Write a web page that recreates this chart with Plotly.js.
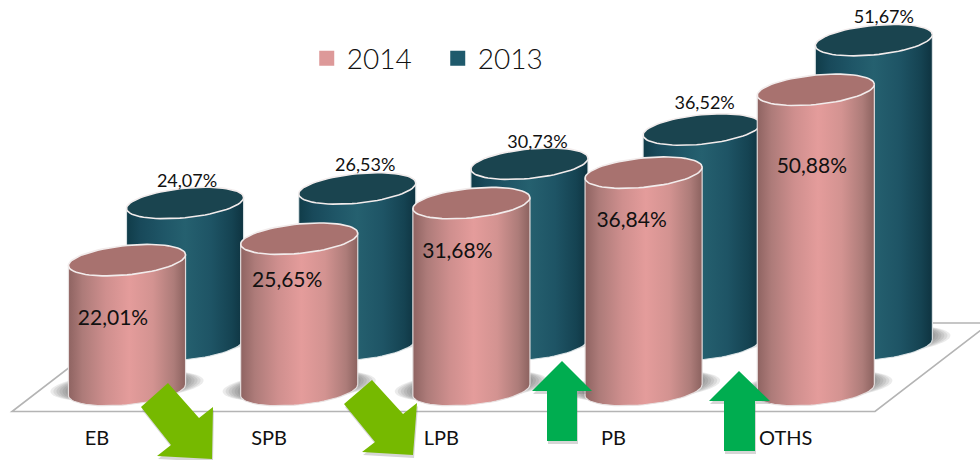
<!DOCTYPE html>
<html>
<head>
<meta charset="utf-8">
<script src="https://cdn.plot.ly/plotly-3.0.1.min.js"></script>
<style>html,body{margin:0;padding:0;background:#fff}#c{width:980px;height:460px}</style>
</head>
<body>
<div id="c"></div>
<script>
var categories = ['EB', 'SPB', 'LPB', 'PB', 'OTHS'];
var values2014 = [22.01, 25.65, 31.68, 36.84, 50.88];
var values2013 = [24.07, 26.53, 30.73, 36.52, 51.67];

// geometry of the pseudo-3D scene
var W = 980, H = 460;
var xRange = [-0.7375, 4.9535], yRange = [-11.86, 66.1];
var backDx = 0.337, backBase = 7.63;
var rx = 0.34, ry = 2.5, shear = 0.93;
var tickShift = -0.175;
var pxX = (xRange[1] - xRange[0]) / W, pxY = (yRange[1] - yRange[0]) / H;
function dx(p) { return xRange[0] + p * pxX; }
function dy(p) { return yRange[1] - p * pxY; }

var label14Dx = [-14, -12, -14, -12, -4], label14Dy = [60, 43, 50, 49, 78];
var label13Dx = [2, 8, 8, 3, 10], label13Dy = [20, 22, 20, 25, 22];

function comma(v) { return v.toFixed(2).replace('.', ',') + '%'; }

function ellipse(cx, cy, a, b, s) {
  var xs = [], ys = [];
  for (var k = 0; k <= 72; k++) {
    var t = k / 72 * 2 * Math.PI;
    xs.push(cx + a * Math.cos(t));
    ys.push(cy + b * Math.sin(t) + s * Math.cos(t));
  }
  return { x: xs, y: ys };
}
function body(cx, base, top) {
  var xs = [], ys = [];
  for (var k = 0; k <= 36; k++) {
    var t = k / 36 * Math.PI;
    xs.push(cx + rx * Math.cos(t));
    ys.push(base - ry * Math.sin(t) + shear * Math.cos(t));
  }
  xs.push(cx - rx, cx + rx, cx + rx);
  ys.push(top - shear, top + shear, base + shear);
  return { x: xs, y: ys };
}
function toPath(e) {
  return e.x.map(function (x, i) { return (i ? 'L' : 'M') + x + ',' + e.y[i]; }).join(' ') + ' Z';
}

var pinkScale = [[0, '#8e6361'], [0.12, '#ad7b79'], [0.32, '#cf8f8e'], [0.52, '#e49c9b'], [0.72, '#d39391'], [0.9, '#ad7c79'], [1, '#8b625f']];
var tealScale = [[0, '#103c49'], [0.12, '#18495a'], [0.32, '#1f5667'], [0.5, '#25606f'], [0.72, '#1e5465'], [0.9, '#154352'], [1, '#0e3340']];

function cylinder(cx, base, v, scale, lid, rim) {
  var top = base + v;
  var b = body(cx, base, top);
  var e = ellipse(cx, top, rx, ry, shear);
  return [
    { type: 'scatter', mode: 'lines', x: b.x, y: b.y, fill: 'toself', line: { color: rim, width: 1.2 },
      fillgradient: { type: 'horizontal', colorscale: scale }, hoverinfo: 'skip', showlegend: false },
    { type: 'scatter', mode: 'lines', x: e.x, y: e.y, fill: 'toself', fillcolor: lid, line: { color: '#f2ecec', width: 1.6 },
      hoverinfo: 'skip', showlegend: false }
  ];
}

var idx = categories.map(function (c, i) { return i; });
var traces = [
  { type: 'bar', name: '2013', x: idx.map(function (i) { return i + backDx; }), y: values2013, base: backBase, width: 0.5,
    marker: { color: '#1f5a6c', line: { color: '#1f5a6c', width: 3 } }, hoverinfo: 'skip', legendrank: 2 },
  { type: 'bar', name: '2014', x: idx, y: values2014, base: 0, width: 0.5,
    marker: { color: '#dd9999', line: { color: '#dd9999', width: 3 } }, hoverinfo: 'skip', legendrank: 1 }
];
idx.forEach(function (i) {
  traces = traces.concat(cylinder(i + backDx, backBase, values2013[i], tealScale, '#1a444f', 'rgba(225,232,234,0.9)'));
});
idx.forEach(function (i) {
  traces = traces.concat(cylinder(i, 0, values2014[i], pinkScale, '#a8726f', 'rgba(232,226,226,0.95)'));
});
traces.push({ type: 'scatter', mode: 'text', x: idx.map(function (i) { return i + label14Dx[i] * pxX; }),
  y: idx.map(function (i) { return values2014[i] - label14Dy[i] * pxY; }), text: values2014.map(comma),
  textposition: 'middle center', textfont: { family: 'Lato', size: 21, color: '#111' }, hoverinfo: 'skip', showlegend: false });
traces.push({ type: 'scatter', mode: 'text', x: idx.map(function (i) { return i + backDx + label13Dx[i] * pxX; }),
  y: idx.map(function (i) { return backBase + values2013[i] + label13Dy[i] * pxY; }), text: values2013.map(comma),
  textposition: 'middle center', textfont: { family: 'Lato', size: 18, color: '#111' }, hoverinfo: 'skip', showlegend: false });

var shapes = [];
function addShape(path, fill, op, layer, line) {
  shapes.push({ type: 'path', path: path, xref: 'x', yref: 'y', fillcolor: fill, opacity: op, layer: layer,
    line: line || { width: 0 } });
}
// floor
var floorPx = [[12, 411.5], [875, 411.5], [990, 323], [127, 323]];
addShape(toPath({ x: floorPx.map(function (p) { return dx(p[0]); }), y: floorPx.map(function (p) { return dy(p[1]); }) }),
  '#ffffff', 1, 'below', { color: '#b4b4b4', width: 1.6 });
// soft floor shadows
function shadow(cx, base) {
  for (var k = 0; k < 7; k++) {
    addShape(toPath(ellipse(cx, base + 4 * pxY, rx + (18 - k * 3) * pxX, ry, shear)), '#3c3c3c', 0.1, 'below');
  }
}
idx.forEach(function (i) { shadow(i + backDx, backBase); });
idx.forEach(function (i) { shadow(i, 0); });
// change arrows
var arrowsDown = [
  [[168, 383], [141, 407], [171, 445], [157, 456], [212, 459], [213, 407], [199, 418]],
  [[372, 380], [344, 404], [375, 442], [362, 452], [413, 455], [417, 403], [403, 414]]
];
var arrowsUp = [
  [[562, 361], [532, 391], [547, 391], [547, 441], [577, 441], [577, 391], [592, 391]],
  [[739, 371], [709, 401], [724, 401], [724, 451], [755, 451], [755, 401], [770, 401]]
];
function arrow(pts, col) {
  addShape(toPath({ x: pts.map(function (p) { return dx(p[0] + 1); }), y: pts.map(function (p) { return dy(p[1] + 3); }) }), '#777777', 0.3, 'above');
  addShape(toPath({ x: pts.map(function (p) { return dx(p[0]); }), y: pts.map(function (p) { return dy(p[1]); }) }), col, 1, 'above');
}
arrowsDown.forEach(function (a) { arrow(a, '#76b900'); });
arrowsUp.forEach(function (a) { arrow(a, '#00ad50'); });

var layout = {
  width: W, height: H,
  margin: { l: 0, r: 0, t: 0, b: 0, pad: 0 },
  paper_bgcolor: '#ffffff', plot_bgcolor: 'rgba(0,0,0,0)',
  barmode: 'overlay', showlegend: true, hovermode: false,
  xaxis: { type: 'linear', range: xRange, domain: [0, 1], anchor: 'free', position: (H - 424) / H,
    tickmode: 'array', tickvals: idx.map(function (i) { return i + tickShift; }), ticktext: categories,
    tickfont: { family: 'Lato', size: 20, color: '#111' }, ticklen: 0, showgrid: false, zeroline: false, showline: false, automargin: false },
  yaxis: { range: yRange, domain: [0, 1], visible: false, showgrid: false, zeroline: false, automargin: false },
  legend: { orientation: 'h', x: 0.313, xanchor: 'left', y: 0.927, yanchor: 'top', font: { family: 'Lato', weight: 300, size: 28, color: '#111' },
    bgcolor: 'rgba(0,0,0,0)', entrywidth: 86, entrywidthmode: 'pixels', itemclick: false, itemdoubleclick: false },
  shapes: shapes
};
Plotly.newPlot('c', traces, layout, { displayModeBar: false, staticPlot: true });
</script>
</body>
</html>
